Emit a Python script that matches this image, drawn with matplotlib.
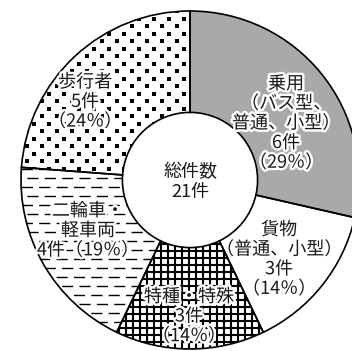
import numpy as np
import matplotlib.pyplot as plt
import matplotlib.patheffects as pe

plt.rcParams['font.family'] = ['Noto Sans CJK JP', 'DejaVu Sans']
plt.rcParams['lines.scale_dashes'] = False

# data (clockwise from top)
names = ['乗用\n（バス型、\n普通、小型）', '貨物\n（普通、小型）', '特種・特殊', '二輪車・\n軽車両', '歩行者']
counts = [6, 3, 3, 4, 5]
pcts = [29, 14, 14, 19, 24]
total = 21
seps = ['\n', '\n', '\n', '', '\n']   # count / percent on one line for 二輪車

# label positions (data units) and wedge styles
label_xy = [(0.568, 0.335), (0.527, -0.470), (-0.006, -0.808), (-0.604, -0.300), (-0.621, 0.462)]
faces = ['#a9a9a9', 'white', 'white', 'white', 'white']
u = 1 / 169  # one pixel in data units

fig = plt.figure(figsize=(3.52, 3.51), dpi=100)
R = 1.05
ax = fig.add_axes([(190 - 169 * R) / 352, (351 - 180 - 169 * R) / 351,
                   2 * 169 * R / 352, 2 * 169 * R / 351])

wedges, _ = ax.pie(counts, startangle=90, counterclock=False, radius=1,
                   colors=faces, wedgeprops=dict(width=0.6, linewidth=0))

# --- textures clipped to wedges ---
# crosshatch (特種・特殊)
w = wedges[2]
for g in np.arange(-1, 1, 7 * u):
    l1, = ax.plot([g, g], [-1, 1], color='black', lw=1.5)
    l2, = ax.plot([-1, 1], [g, g], color='black', lw=1.5)
    l1.set_clip_path(w)
    l2.set_clip_path(w)

# dashes (二輪車・軽車両)
w = wedges[3]
for j, yy in enumerate(np.arange(-1, 1, 9 * u)):
    ln, = ax.plot([-1.1, 0.2], [yy, yy], color='black', lw=1.0,
                  linestyle=(8.5 * (j % 2), (8, 4.5)))
    ln.set_clip_path(w)

# dots (歩行者)
w = wedges[4]
for j, yy in enumerate(np.arange(-1, 1, 7.5 * u)):
    xs = np.arange(-1.1, 0.2, 15 * u) + (j % 2) * 7.5 * u
    pts, = ax.plot(xs, np.full_like(xs, yy), 's', color='black', ms=2.2, mew=0)
    pts.set_clip_path(w)

# outlines on top
ax.pie(counts, startangle=90, counterclock=False, radius=1,
       wedgeprops=dict(width=0.6, fill=False, edgecolor='black', linewidth=1.2, zorder=5))

halo = [pe.withStroke(linewidth=3.5, foreground='white')]
for name, n, p, sep, (x, y) in zip(names, counts, pcts, seps, label_xy):
    ax.text(x, y, f'{name}\n{n}件{sep}（{p}％）', ha='center', va='center',
            fontsize=13, linespacing=1.12, color='#1a1a1a', path_effects=halo, zorder=6)

ax.text(0, -0.01, f'総件数\n{total}件', ha='center', va='center', fontsize=13,
        linespacing=1.12, color='#1a1a1a', zorder=6)

ax.set_xlim(-R, R)
ax.set_ylim(-R, R)
ax.set_aspect('auto')
ax.axis('off')
fig.savefig('out.png', dpi=100)
